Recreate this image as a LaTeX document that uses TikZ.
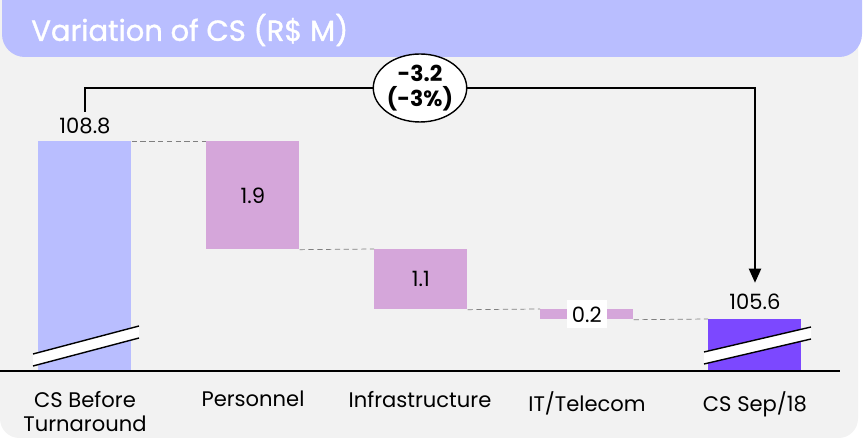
\documentclass[tikz,border=0pt]{standalone}
\usepackage{fontspec}
\setmainfont{Poppins}
\usetikzlibrary{shapes.geometric,arrows.meta,positioning}

\definecolor{panel}{HTML}{F2F2F2}
\definecolor{lavender}{HTML}{B9BEFF}
\definecolor{lilac}{HTML}{D5A6DA}
\definecolor{violet}{HTML}{7C48FF}

\tikzset{
  bar/.style={rectangle,inner sep=0pt,minimum width=1.86cm,anchor=north west},
  link/.style={densely dashed,gray,thin},
  val/.style={font=\fontsize{12}{14}\selectfont},
  cat/.style={font=\fontsize{12}{13.6}\selectfont,align=center,anchor=north},
  brk/.style={fill=white,draw=none},
}

\begin{document}
\begin{tikzpicture}[x=0.02cm,y=-0.02cm]
\useasboundingbox (0,0) rectangle (866,445);
\clip (0,0) rectangle (866,445);
% panel and title band
\fill[panel,rounded corners=11pt] (0,-30) rectangle (858,438);
\fill[lavender,rounded corners=13pt] (2,-30) rectangle (862,57);
\node[anchor=west,inner sep=0pt,text=white,font=\fontsize{16.5}{18}\selectfont\addfontfeature{FakeBold=1.2}] (title) at (31,30) {Variation of CS (R\$ M)};

% bars
\node[bar,fill=lavender,minimum height=4.6cm] (b1) at (38,141) {};
\node[bar,fill=lilac,minimum height=2.16cm] (b2) at (206,141) {};
\node[bar,fill=lilac,minimum height=1.2cm] (b3) at (374,249) {};
\node[bar,fill=lilac,minimum height=0.2cm] (b4) at (540,309) {};
\node[bar,fill=violet,minimum height=1.04cm] (b5) at (708,319) {};

% connectors between bars
\draw[link] (b1.north east) -- (b2.north west);
\draw[link] (b2.south east) -- (b3.north west);
\draw[link] (b3.south east) -- (b4.north west);
\draw[link] (b4.south east) -- (b5.north west);

% axis
\coordinate (ax0) at (0,371);
\coordinate (ax1) at (840,371);
\draw[thick] (ax0) -- (ax1);

% axis breaks
\fill[brk] (33,354) -- (139,326) -- (139,338) -- (33,366) -- cycle;
\draw[thick] (33,354) -- (139,326);
\draw[thick] (33,366) -- (139,338);
\fill[brk] (704,352) -- (811,327) -- (811,339) -- (704,364) -- cycle;
\draw[thick] (704,352) -- (811,327);
\draw[thick] (704,364) -- (811,339);

% values
\node[val] (v1) at (85,126) {108.8};
\node[val] at (b2.center) {1.9};
\node[val] at (b3.center) {1.1};
\node[val,fill=white,inner xsep=3pt,inner ysep=3.5pt] at (b4.center) {0.2};
\node[val] (v5) at (755,302) {105.6};

% categories
\node[cat] at (85,385) {CS Before\\Turnaround};
\node[cat] at (253,385) {Personnel};
\node[cat] at (420,385) {Infrastructure};
\node[cat] at (587,385) {IT/Telecom};
\node[cat] at (755,385) {CS Sep/18};

% total change
\coordinate (top1) at (85,88);
\coordinate (top5) at (755,88);
\draw[thick,-{Triangle[width=7pt,length=8pt]}] (v1.north) -- (top1) -- (top5) -- ([yshift=3pt]v5.north);
\node[ellipse,draw,thick,fill=white,minimum width=1.74cm,minimum height=1.36cm,inner sep=0pt,align=center,
  font=\fontsize{12.5}{14.5}\selectfont\bfseries] (delta) at (420,88) {-3.2\\(-3\%)};
\end{tikzpicture}
\end{document}
